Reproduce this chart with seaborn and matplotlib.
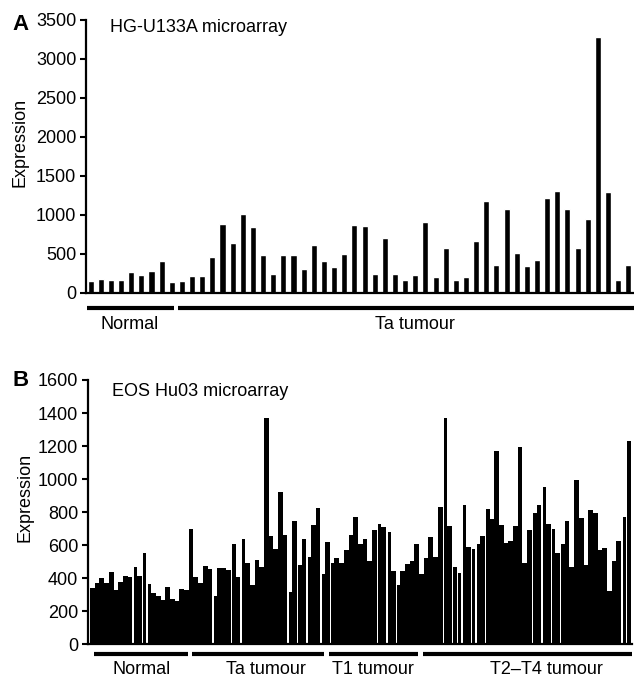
import numpy as np
import pandas as pd
import matplotlib
matplotlib.use("Agg")
import matplotlib.pyplot as plt
import matplotlib.transforms as mtransforms
import seaborn as sns

sns.set_style("ticks")
plt.rcParams["font.family"] = ["Liberation Sans", "DejaVu Sans"]
plt.rcParams.update({"text.color": "black", "axes.labelcolor": "black",
                     "xtick.color": "black", "ytick.color": "black",
                     "axes.edgecolor": "black"})

# panel A: HG-U133A
a_normal = [158, 183, 170, 170, 265, 235, 286, 414, 137]
a_ta = [150, 222, 222, 457, 883, 640, 1016, 840, 487, 248,
        482, 482, 307, 619, 405, 333, 504, 875, 862, 248,
        704, 248, 171, 235, 905, 205, 572, 162, 205, 662,
        1174, 363, 1080, 512, 350, 418, 1216, 1310, 1080, 572,
        947, 3278, 1289, 171, 354]
a_groups = ["Normal", "Ta tumour"]

# panel B: EOS Hu03
b_normal = [340, 368, 400, 368, 434, 330, 374, 414, 404, 468,
            414, 554, 364, 312, 292, 268, 344, 274, 260, 334, 328]
b_ta = [700, 404, 368, 474, 454, 294, 458, 460, 448, 604,
        408, 638, 492, 360, 510, 464, 1370, 652, 578, 924,
        658, 318, 744, 480, 634, 528, 724, 824, 424]
b_t1 = [620, 494, 524, 494, 570, 662, 768, 604, 634, 504,
        688, 728, 708, 680, 444, 358, 444, 484, 504, 604]
b_t2t4 = [424, 524, 648, 528, 828, 1370, 714, 468, 428, 840,
          588, 574, 608, 652, 820, 760, 1170, 720, 614, 624,
          714, 1195, 494, 690, 794, 844, 950, 728, 698, 554,
          608, 748, 468, 994, 764, 478, 814, 792, 568, 580,
          322, 504, 624, 768, 1228]
b_groups = ["Normal", "Ta tumour", "T1 tumour", "T2\u2013T4 tumour"]

# bars (1-based) that show a thin white gap on their left side
b_gaps = [10, 12, 13, 27, 31, 33, 43, 45, 47, 50, 52, 62, 64, 66, 76, 78,
          79, 80, 82, 83, 85, 95, 97, 99, 101, 114, 115]

FS = 13


def make_df(groups, values):
    rows = []
    for g, vals in zip(groups, values):
        for v in vals:
            rows.append({"group": g, "value": v})
    df = pd.DataFrame(rows)
    df["sample"] = np.arange(len(df)).astype(str)
    return df


def style_axis(ax):
    sns.despine(ax=ax)
    for s in ["left", "bottom"]:
        ax.spines[s].set_linewidth(1.6)
    ax.tick_params(axis="y", length=4, width=1.5, labelsize=FS, pad=3)
    ax.tick_params(axis="x", length=0, labelbottom=False)
    ax.set_xlabel("")
    ax.set_ylabel("")


def group_lines(ax, counts, labels, label_x, y_line, y_text, start_off, end_off, xmax):
    trans = mtransforms.blended_transform_factory(ax.transData, ax.transAxes)
    edge = -0.5
    for i, n in enumerate(counts):
        x0 = edge + start_off
        x1 = edge + n - end_off
        if i == len(counts) - 1:
            x1 = max(x1, xmax)
        ax.plot([x0, x1], [y_line, y_line], color="black", lw=3,
                transform=trans, clip_on=False, solid_capstyle="butt")
        ax.text(label_x[i], y_text, labels[i], transform=trans,
                ha="center", va="center", fontsize=FS)
        edge += n


fig = plt.figure(figsize=(6.34, 6.81), dpi=100)

# ---- panel A
df_a = make_df(a_groups, [a_normal, a_ta])
ax1 = fig.add_axes([0.1356, 0.5698, 0.8644, 0.4009])
sns.barplot(data=df_a, x="sample", y="value", color="black", saturation=1,
            width=0.6, errorbar=None, ax=ax1)
ax1.set_xlim(-0.46, 53.56)
ax1.set_ylim(0, 3500)
ax1.set_yticks(np.arange(0, 3501, 500))
style_axis(ax1)
ax1.text(0.044, 0.974, "HG-U133A microarray", transform=ax1.transAxes,
         fontsize=FS, va="center", ha="left")
ax1.text(-0.12, 0.553, "Expression", transform=ax1.transAxes, rotation=90,
         fontsize=FS, va="center", ha="center")
fig.text(12 / 634, 1 - 25 / 681, "A", fontsize=16, fontweight="bold",
         va="center", ha="left")
group_lines(ax1, [len(a_normal), len(a_ta)], a_groups, [3.8, 32.0],
            -0.055, -0.117, 0.15, 0.28, 53.56)

# ---- panel B
df_b = make_df(b_groups, [b_normal, b_ta, b_t1, b_t2t4])
ax2 = fig.add_axes([0.1388, 0.0543, 0.858, 0.3877])
sns.barplot(data=df_b, x="sample", y="value", color="black", saturation=1,
            width=1.0, errorbar=None, ax=ax2, linewidth=0)
for i, p in enumerate(ax2.patches):
    if (i + 1) in b_gaps:
        p.set_x(p.get_x() + 0.3)
        p.set_width(p.get_width() - 0.3)
ax2.set_xlim(-0.93, 114.8)
ax2.set_ylim(0, 1600)
ax2.set_yticks(np.arange(0, 1601, 200))
style_axis(ax2)
ax2.text(0.044, 0.955, "EOS Hu03 microarray", transform=ax2.transAxes,
         fontsize=FS, va="center", ha="left")
ax2.text(-0.116, 0.557, "Expression", transform=ax2.transAxes, rotation=90,
         fontsize=FS, va="center", ha="center")
fig.text(12 / 634, 1 - 381 / 681, "B", fontsize=16, fontweight="bold",
         va="center", ha="left")
group_lines(ax2, [len(b_normal), len(b_ta), len(b_t1), len(b_t2t4)], b_groups,
            [10.4, 36.9, 59.7, 96.5], -0.038, -0.098, 0.8, 0.15, 114.8)

fig.savefig("out.png", dpi=100)
